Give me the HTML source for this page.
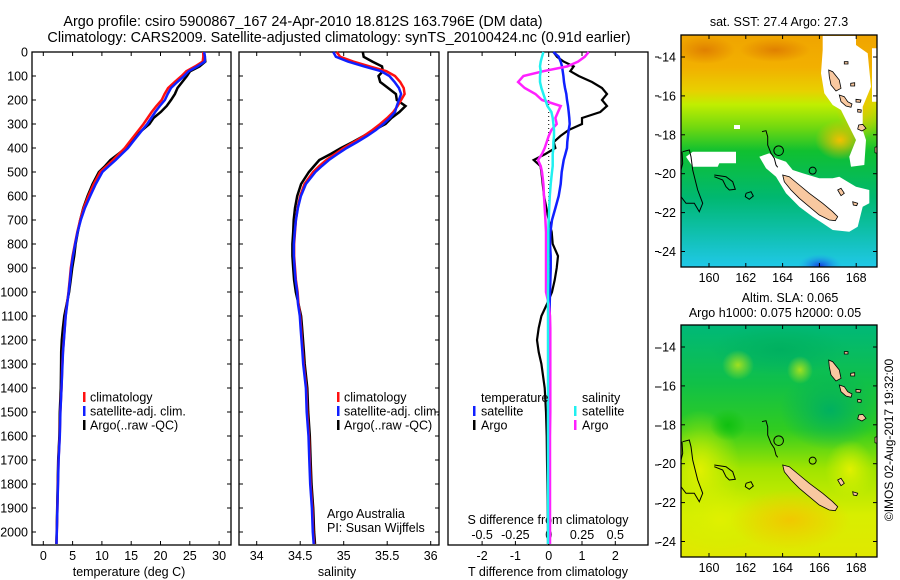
<!DOCTYPE html>
<html><head><meta charset="utf-8"><style>
html,body{margin:0;padding:0;background:#fff}
svg{display:block;font-family:"Liberation Sans",sans-serif;font-size:12.5px}
</style></head><body>
<svg id="fig" width="900" height="580" viewBox="0 0 900 580">
<defs>
<linearGradient id="sstg" x1="0" y1="0" x2="0" y2="1">
<stop offset="0" stop-color="#f0a400"/><stop offset="0.14" stop-color="#f2b000"/><stop offset="0.24" stop-color="#e8d000"/><stop offset="0.3" stop-color="#c0ee00"/><stop offset="0.4" stop-color="#70d810"/><stop offset="0.5" stop-color="#10c030"/><stop offset="0.7" stop-color="#00b870"/><stop offset="0.86" stop-color="#10c0b0"/><stop offset="1" stop-color="#20c8e8"/>
</linearGradient>
<radialGradient id="orb"><stop offset="0" stop-color="#f2c000"/><stop offset="1" stop-color="#f2c000" stop-opacity="0"/></radialGradient>
<radialGradient id="dorb"><stop offset="0" stop-color="#e08000"/><stop offset="1" stop-color="#e08000" stop-opacity="0"/></radialGradient>
<radialGradient id="blb"><stop offset="0" stop-color="#1040e0"/><stop offset="1" stop-color="#20a0f0" stop-opacity="0"/></radialGradient>
<linearGradient id="slag" x1="0" y1="0" x2="0" y2="1">
<stop offset="0" stop-color="#00b878"/><stop offset="0.25" stop-color="#10c048"/><stop offset="0.45" stop-color="#30cc20"/><stop offset="0.62" stop-color="#a0e400"/><stop offset="0.82" stop-color="#d8ee00"/><stop offset="1" stop-color="#e0e800"/>
</linearGradient>
<radialGradient id="ylw"><stop offset="0" stop-color="#e0f000"/><stop offset="1" stop-color="#d0f000" stop-opacity="0"/></radialGradient>
<radialGradient id="tea"><stop offset="0" stop-color="#00b060"/><stop offset="1" stop-color="#00b060" stop-opacity="0"/></radialGradient>
<radialGradient id="grn"><stop offset="0" stop-color="#10c010"/><stop offset="1" stop-color="#10c010" stop-opacity="0"/></radialGradient>
<radialGradient id="lgr"><stop offset="0" stop-color="#a0e020"/><stop offset="1" stop-color="#a0e020" stop-opacity="0"/></radialGradient>
<radialGradient id="org2"><stop offset="0" stop-color="#f0c800"/><stop offset="1" stop-color="#f0c800" stop-opacity="0"/></radialGradient>
<clipPath id="m1c"><rect x="681" y="35" width="196" height="232"/></clipPath>
<clipPath id="m2c"><rect x="681" y="325" width="196" height="232"/></clipPath>
</defs>
<g id="titles">
<text x="303" y="26" text-anchor="middle" font-size="14.4">Argo profile: csiro 5900867_167 24-Apr-2010 18.812S 163.796E (DM data)</text>
<text x="339" y="42" text-anchor="middle" font-size="14.4">Climatology: CARS2009. Satellite-adjusted climatology: synTS_20100424.nc (0.91d earlier)</text>
</g>
<g id="p1"></g>
<g id="p2"></g>
<g id="p3"></g>
<g id="maps"></g>
<text transform="translate(893,440) rotate(-90)" text-anchor="middle" font-size="12">©IMOS 02-Aug-2017 19:32:00</text>
</svg>
<script>
// ---- data ----
const depths = [0,20,40,60,80,100,125,150,175,200,225,250,275,300,325,350,375,400,425,450,475,500,550,600,650,700,750,800,850,900,950,1000,1050,1100,1150,1200,1250,1300,1400,1500,1600,1700,1800,1900,2000,2050];
const climT = [27.3,27.3,27.2,25.9,24.4,23.6,22.4,21.3,20.7,20.2,19.3,18.5,17.8,17.1,16.3,15.5,14.7,13.9,12.9,11.9,10.8,9.7,8.6,7.7,6.9,6.3,5.8,5.4,5.0,4.7,4.5,4.3,4.05,3.8,3.65,3.5,3.35,3.25,3.1,2.9,2.8,2.6,2.5,2.4,2.3,2.25];
const climS = [34.92,34.96,35.11,35.30,35.49,35.59,35.65,35.69,35.70,35.66,35.62,35.57,35.50,35.42,35.33,35.23,35.12,35.00,34.90,34.80,34.72,34.65,34.55,34.50,34.47,34.45,34.44,34.43,34.43,34.44,34.45,34.47,34.48,34.50,34.51,34.52,34.53,34.54,34.57,34.58,34.60,34.61,34.62,34.64,34.65,34.66];
const dT_argo = [0.14,0.25,0.45,0.75,0.65,0.9,1.3,1.6,1.75,1.6,1.75,1.55,1.0,1.0,0.6,0.35,0.15,0.2,-0.1,-0.45,-0.25,-0.22,-0.18,-0.14,-0.07,0.0,0.09,0.12,0.28,0.24,0.18,0.1,-0.05,-0.22,-0.3,-0.35,-0.3,-0.22,-0.12,-0.08,-0.06,-0.05,-0.04,-0.03,-0.02,-0.02];
const dT_sat = [0.14,0.3,0.36,0.4,0.42,0.44,0.46,0.49,0.53,0.55,0.58,0.6,0.62,0.63,0.6,0.58,0.56,0.55,0.5,0.45,0.42,0.39,0.36,0.3,0.2,0.1,0.05,0.04,0.06,0.06,0.05,0.04,0.03,0.03,0.02,0.02,0.02,0.02,0.01,0.01,0.01,0.01,0.01,0.01,0.0,0.0];
const dS_argo = [0.30,0.27,0.22,0.14,-0.04,-0.19,-0.23,-0.18,-0.10,-0.05,0.09,0.07,0.05,0.06,0.02,0.0,-0.015,-0.03,-0.05,-0.08,-0.06,-0.05,-0.04,-0.035,-0.03,-0.025,-0.02,-0.02,-0.02,-0.02,-0.02,-0.02,0.0,0.01,0.012,0.012,0.012,0.012,0.012,0.012,0.01,0.01,0.01,0.01,0.01,0.01];
const dS_sat = [-0.04,-0.05,-0.06,-0.065,-0.06,-0.065,-0.065,-0.055,-0.04,-0.025,-0.01,0.02,0.03,0.035,0.04,0.04,0.035,0.035,0.03,0.03,0.03,0.025,0.015,0.008,0.004,0.0,-0.003,-0.003,-0.004,-0.004,-0.004,-0.005,-0.005,-0.005,-0.005,-0.005,-0.005,-0.005,-0.005,-0.005,-0.005,-0.005,-0.005,-0.005,-0.005,-0.005];
const depthTicks = [0,100,200,300,400,500,600,700,800,900,1000,1100,1200,1300,1400,1500,1600,1700,1800,1900,2000];
const tempTicks = [0,5,10,15,20,25,30];
const salTicks = [34,34.5,35,35.5,36];
const salTickLabels = ["34","34.5","35","35.5","36"];
const tdiffTicks = [-2,-1,0,1,2];
const sdiffTicks = [-0.5,-0.25,0,0.25,0.5];
const sdiffLabels = ["-0.5","-0.25","0","0.25","0.5"];

// ---- scales ----
const yD = d => 52 + d*0.24;
const xT = t => 43.3 + t*5.86;
const xS = s => 256.7 + (s-34)*87;
const xdT = t => 548.7 + t*33.3;
const xdS = s => 548.7 + s*133.2;
const NS='http://www.w3.org/2000/svg';
function mk(tag, attrs, parent){const e=document.createElementNS(NS,tag);for(const k in attrs)e.setAttribute(k,attrs[k]);parent.appendChild(e);return e;}
function txt(parent,x,y,s,anchor){const t=mk('text',{x:x,y:y,'text-anchor':anchor||'start'},parent);t.textContent=s;return t;}
function line(parent,vals,xf,color,w){
  const pts=depths.map((d,i)=>xf(vals[i]).toFixed(1)+','+yD(d).toFixed(1)).join(' ');
  return mk('polyline',{points:pts,fill:'none',stroke:color,'stroke-width':w,'stroke-linejoin':'miter'},parent);
}
function frame(g,x0,x1){
  const r=mk('rect',{x:x0,y:52,width:x1-x0,height:493,fill:'none',stroke:'#000','stroke-width':1.3},g);
  
  
  depthTicks.forEach(d=>{mk('line',{x1:x0,x2:x0+4,y1:yD(d),y2:yD(d),stroke:'#000'},g);mk('line',{x1:x1-4,x2:x1,y1:yD(d),y2:yD(d),stroke:'#000'},g);});
}
const sumArr=(a,b)=>a.map((v,i)=>v+b[i]);
const satT=sumArr(climT,dT_sat), argoT=sumArr(climT,dT_argo);
const satS=sumArr(climS,dS_sat), argoS=sumArr(climS,dS_argo);

// ---- panel 1 ----
const p1=document.getElementById('p1');
frame(p1,32,231);
depthTicks.forEach(d=>{const t=txt(p1,28,yD(d)+4.5,String(d),'end');

});
tempTicks.forEach(v=>{mk('line',{x1:xT(v),x2:xT(v),y1:52,y2:56,stroke:'#000'},p1);mk('line',{x1:xT(v),x2:xT(v),y1:541,y2:545,stroke:'#000'},p1);
const t=txt(p1,xT(v),560,String(v),'middle');

});
let a=txt(p1,129,576,'temperature (deg C)','middle');


let l;
l=line(p1,argoT,xT,'#000',2.5);


l=line(p1,climT,xT,'#ff1010',2.5);


l=line(p1,satT,xT,'#1020ff',2.5);



function legend(g,bx,tx,y0,items){
  items.forEach((it,i)=>{const y=y0+i*14;
    const b=mk('rect',{x:bx,y:y-5,width:2.5,height:10,fill:it[1]},g);
    
    
    const t=txt(g,tx,y+4.5,it[0]);
    
    });
}
const legItems=[['climatology','#ff1010'],['satellite-adj. clim.','#1020ff'],['Argo(..raw -QC)','#000']];
legend(p1,83,90,397,legItems);

// ---- panel 2 ----
const p2=document.getElementById('p2');
frame(p2,239,439);
salTicks.forEach((v,i)=>{mk('line',{x1:xS(v),x2:xS(v),y1:52,y2:56,stroke:'#000'},p2);mk('line',{x1:xS(v),x2:xS(v),y1:541,y2:545,stroke:'#000'},p2);
const t=txt(p2,xS(v),560,salTickLabels[i],'middle');

});
a=txt(p2,337,576,'salinity','middle');


l=line(p2,argoS,xS,'#000',2.5);


l=line(p2,climS,xS,'#ff1010',2.5);


l=line(p2,satS,xS,'#1020ff',2.5);


legend(p2,337,344,397,legItems);
a=txt(p2,327,518,'Argo Australia');


a=txt(p2,327,532,'PI: Susan Wijffels');



// ---- panel 3 ----
const p3=document.getElementById('p3');
const r3=mk('rect',{x:448,y:52,width:200,height:493,fill:'none',stroke:'#000','stroke-width':1.3},p3);


mk('line',{x1:548.7,x2:548.7,y1:52,y2:545,stroke:'#000','stroke-dasharray':'1,3'},p3);
tdiffTicks.forEach(v=>{mk('line',{x1:xdT(v),x2:xdT(v),y1:52,y2:56,stroke:'#000'},p3);mk('line',{x1:xdT(v),x2:xdT(v),y1:541,y2:545,stroke:'#000'},p3);
const t=txt(p3,xdT(v),560,String(v),'middle');

});
sdiffTicks.forEach((v,i)=>{const t=txt(p3,xdS(v),539,sdiffLabels[i],'middle');

});
a=txt(p3,548,576,'T difference from climatology','middle');


a=txt(p3,548,524,'S difference from climatology','middle');


l=line(p3,dT_argo,xdT,'#000',2.2);


l=line(p3,dT_sat,xdT,'#1020ff',2.5);


l=line(p3,dS_argo,xdS,'#ff20ff',2.5);


l=line(p3,dS_sat,xdS,'#20f0f0',2.5);


a=txt(p3,481,402,'temperature');


a=txt(p3,582,402,'salinity');


legend(p3,473,481,411,[['satellite','#1020ff'],['Argo','#000']]);
legend(p3,574,582,411,[['satellite','#20f0f0'],['Argo','#ff20ff']]);
for(let i=0;i<6;i++){mk('line',{x1:655,x2:659,y1:57+i*38.9,y2:57+i*38.9,stroke:'#000'},p3);mk('line',{x1:655,x2:659,y1:348+i*39,y2:348+i*39,stroke:'#000'},p3);}

// ---- maps ----
const mg=document.getElementById('maps');
const Z=(pts,dy)=>pts.map(p=>(676+p[0]/3).toFixed(1)+','+(30+p[1]/3+dy).toFixed(1)).join(' ');
const whiteA=[[440,18],[540,18],[540,45],[575,70],[580,120],[585,170],[560,230],[560,300],[570,330],[565,405],[525,410],[520,380],[540,330],[520,290],[495,240],[470,225],[445,190],[435,130],[440,60]];
const whiteStrip=[[588,55],[603,55],[603,215],[588,215]];
const whiteB=[[250,380],[280,370],[300,385],[330,395],[350,420],[380,430],[430,445],[470,445],[490,440],[540,470],[580,480],[580,520],[560,530],[545,590],[520,605],[470,600],[440,580],[410,560],[370,530],[330,490],[300,440],[270,415]];
const whiteC=[[50,365],[180,365],[180,400],[130,400],[125,410],[50,410],[30,380]];
const islands=[
[[320,435],[340,440],[370,465],[400,490],[440,520],[470,545],[485,560],[478,572],[460,570],[430,555],[400,530],[370,505],[345,480],[325,455]],
[[458,120],[470,125],[490,150],[495,175],[480,183],[465,165],[460,140]],
[[490,195],[505,200],[515,215],[528,222],[525,232],[510,228],[495,215]],
[[548,285],[560,283],[570,295],[558,303],[545,297]],
[[524,160],[536,158],[536,168],[524,168]],[[540,208],[555,210],[553,217],[540,216]],[[545,238],[556,240],[555,247],[545,246]],
[[597,352],[603,350],[603,370],[597,368]],[[485,480],[495,475],[505,490],[495,497]],[[530,515],[545,520],[542,527],[532,525]],
[[505,95],[516,95],[516,102],[505,102]]];
const contours=[
[[258,305],[270,302],[275,320],[275,345],[285,370],[295,385],[300,405],[305,412]],
[[20,365],[40,360],[45,380],[50,420],[65,480],[80,520],[70,545],[55,520],[30,520],[15,500],[15,420],[20,400],[18,365]],
[[115,435],[150,440],[170,455],[178,478],[160,480],[150,470],[140,450],[115,440]],
[[210,490],[225,485],[232,498],[220,508],[208,500],[210,490]]];
function mapPanel(dy,clip,isSST){
  const g=mk('g',{'clip-path':'url(#'+clip+')'},mg);
  
  
  if(isSST){
    mk('rect',{x:681,y:35,width:196,height:232,fill:'url(#sstg)'},g);
    mk('ellipse',{cx:705,cy:50,rx:30,ry:14,fill:'url(#dorb)'},g);
    mk('ellipse',{cx:775,cy:50,rx:35,ry:12,fill:'url(#dorb)'},g);
    mk('ellipse',{cx:840,cy:140,rx:25,ry:20,fill:'url(#orb)'},g);
    mk('ellipse',{cx:860,cy:100,rx:25,ry:40,fill:'url(#orb)'},g);
    mk('ellipse',{cx:820,cy:266,rx:22,ry:12,fill:'url(#blb)'},g);
  } else {
    mk('rect',{x:681,y:325,width:196,height:232,fill:'url(#slag)'},g);
    mk('ellipse',{cx:700,cy:470,rx:40,ry:60,fill:'url(#ylw)'},g);
    mk('ellipse',{cx:720,cy:520,rx:45,ry:35,fill:'url(#ylw)'},g);
    mk('ellipse',{cx:790,cy:520,rx:60,ry:30,fill:'url(#org2)'},g);
    mk('ellipse',{cx:830,cy:410,rx:50,ry:40,fill:'url(#tea)'},g);
    mk('ellipse',{cx:780,cy:350,rx:70,ry:25,fill:'url(#tea)'},g);
    mk('ellipse',{cx:728,cy:425,rx:18,ry:16,fill:'url(#grn)'},g);
    mk('ellipse',{cx:738,cy:365,rx:16,ry:15,fill:'url(#lgr)'},g);
    mk('ellipse',{cx:800,cy:370,rx:13,ry:14,fill:'url(#lgr)'},g);
    mk('ellipse',{cx:850,cy:470,rx:25,ry:30,fill:'url(#ylw)'},g);
  }
  if(isSST){[whiteA,whiteStrip,whiteB,whiteC].forEach(w=>mk('polygon',{points:Z(w,dy),fill:'#fff'},g));
    mk('rect',{x:734,y:125,width:6,height:4,fill:'#fff'},g);}
  contours.forEach(c=>mk('polyline',{points:Z(c,dy),fill:'none',stroke:'#000','stroke-width':1},g));
  mk('circle',{cx:676+308/3,cy:30+362/3+dy,r:4.8,fill:'none',stroke:'#000'},g);
  mk('circle',{cx:676+410/3,cy:30+422/3+dy,r:3.5,fill:'none',stroke:'#000'},g);
  islands.forEach(p=>mk('polygon',{points:Z(p,dy),fill:'#f8c8a0',stroke:'#000','stroke-width':0.8},g));
  const f=mk('rect',{x:681,y:35+dy,width:196,height:232,fill:'none',stroke:'#000','stroke-width':1.3},mg);
  
  
  const lats=[-14,-16,-18,-20,-22,-24];
  lats.forEach((v,i)=>{const y=57+dy+i*38.9;mk('line',{x1:681,x2:685,y1:y,y2:y,stroke:'#000'},mg);mk('line',{x1:873,x2:877,y1:y,y2:y,stroke:'#000'},mg);
    const t=txt(mg,676,y+4.5,String(v),'end');
    
    });
  [160,162,164,166,168].forEach(v=>{const x=709+(v-160)*18.4;mk('line',{x1:x,x2:x,y1:35+dy,y2:39+dy,stroke:'#000'},mg);mk('line',{x1:x,x2:x,y1:263+dy,y2:267+dy,stroke:'#000'},mg);
    const t=txt(mg,x,282+dy,String(v),'middle');
    
    });
}
mapPanel(0,'m1c',true);
mapPanel(290,'m2c',false);
a=txt(mg,779,26,'sat. SST: 27.4 Argo: 27.3','middle');


a=txt(mg,790,302,'Altim. SLA: 0.065','middle');


a=txt(mg,775,317,'Argo h1000: 0.075 h2000: 0.05','middle');


</script>
</body></html>
